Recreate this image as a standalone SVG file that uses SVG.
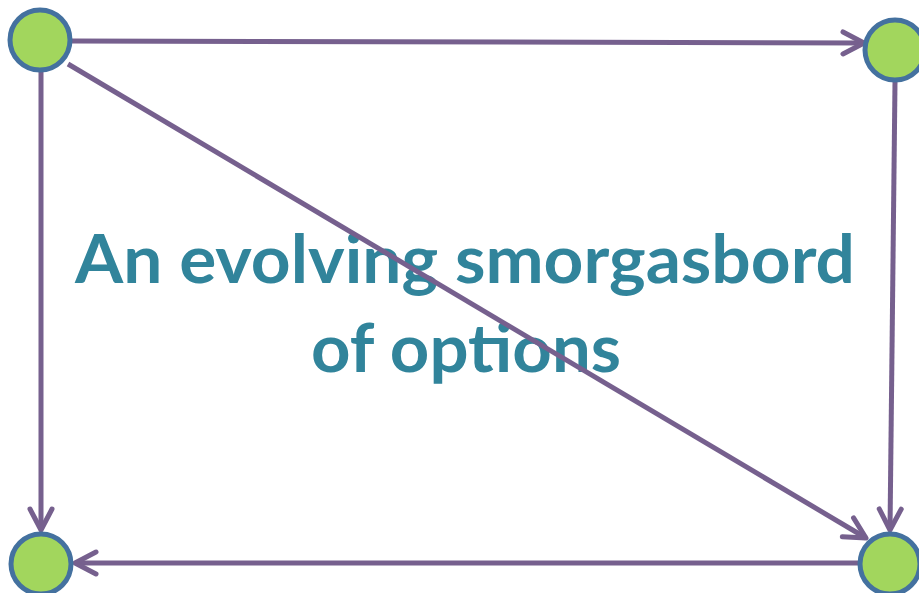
<svg xmlns="http://www.w3.org/2000/svg" width="919" height="593" viewBox="0 0 919 593">
  <style>
    .title { font-family: Lato, "Open Sans", "Liberation Sans", sans-serif; font-weight: bold; font-size: 67px; fill: #31849B; text-anchor: middle; }
    .edge { stroke: #76608E; stroke-width: 5; fill: none; marker-end: url(#arrow); }
    .node { fill: #A2D65D; stroke: #44719F; stroke-width: 5; }
  </style>
  <defs>
    <marker id="arrow" viewBox="0 0 28 28" refX="25" refY="14" markerWidth="28" markerHeight="28" markerUnits="userSpaceOnUse" orient="auto">
      <path d="M4,3 L25,14 L4,25" fill="none" stroke="#76608E" stroke-width="5" stroke-linecap="round" stroke-linejoin="round"/>
    </marker>
  </defs>
  <rect width="919" height="593" fill="#FFFFFF"/>

  <g id="title">
    <text class="title" x="465" y="283" textLength="780" lengthAdjust="spacingAndGlyphs">An evolving smorgasbord</text>
    <text class="title" x="466" y="372" textLength="310" lengthAdjust="spacingAndGlyphs">of options</text>
  </g>

  <g id="connectors">
    <line class="edge" x1="72" y1="41" x2="864" y2="43"/>
    <line class="edge" x1="41" y1="72" x2="41" y2="530"/>
    <line class="edge" x1="895" y1="82" x2="890" y2="530"/>
    <line class="edge" x1="68" y1="64" x2="866" y2="538"/>
    <line class="edge" x1="859" y1="563" x2="75" y2="563"/>
  </g>

  <g id="node-top-left"><circle class="node" cx="40" cy="40" r="30"/></g>
  <g id="node-top-right"><circle class="node" cx="895" cy="50" r="30"/></g>
  <g id="node-bottom-left"><circle class="node" cx="41" cy="564" r="30"/></g>
  <g id="node-bottom-right"><circle class="node" cx="890" cy="564" r="30"/></g>
</svg>
